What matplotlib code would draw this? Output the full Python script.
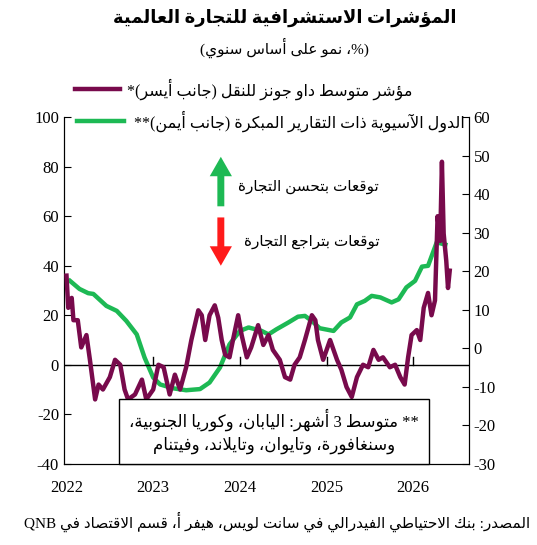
import re
import matplotlib
matplotlib.use("Agg")
import matplotlib.pyplot as plt

plt.rcParams['font.family'] = ['Liberation Serif', 'DejaVu Sans']
plt.rcParams['axes.unicode_minus'] = False

# Dow Jones transport average, % y/y (left axis)
dj_year = [2022.00, 2022.02, 2022.06, 2022.08, 2022.13, 2022.17, 2022.23, 2022.27, 2022.33, 2022.37,
           2022.42, 2022.50, 2022.56, 2022.62, 2022.67, 2022.71, 2022.79, 2022.87, 2022.92, 2023.00,
           2023.06, 2023.12, 2023.19, 2023.25, 2023.31, 2023.38, 2023.44, 2023.48, 2023.52, 2023.56,
           2023.60, 2023.65, 2023.71, 2023.75, 2023.79, 2023.83, 2023.88, 2023.92, 2023.98, 2024.02,
           2024.08, 2024.13, 2024.21, 2024.27, 2024.33, 2024.38, 2024.46, 2024.52, 2024.58, 2024.63,
           2024.69, 2024.75, 2024.83, 2024.87, 2024.90, 2024.96, 2025.04, 2025.12, 2025.17, 2025.23,
           2025.29, 2025.35, 2025.42, 2025.48, 2025.54, 2025.60, 2025.65, 2025.73, 2025.79, 2025.85,
           2025.90, 2025.94, 2025.98, 2026.04, 2026.08, 2026.12, 2026.17, 2026.21, 2026.25, 2026.28,
           2026.31, 2026.33, 2026.35, 2026.38, 2026.40, 2026.42]
dj_val = [36, 23, 27, 18, 18, 7, 12, 2, -14, -8,
          -10, -5, 2, 0, -10, -14, -12, -6, -14, -10,
          0, -1, -12, -4, -10, -1, 10, 16, 22, 20,
          10, 20, 24, 19, 10, 4, 3, 10, 20, 12,
          3, 7, 16, 8, 12, 6, 2, -5, -6, 0,
          3, 10, 20, 18, 10, 2, 10, 2, -2, -9,
          -13, -5, 0, -1, 6, 2, 3, -1, 0, -5,
          -8, 3, 12, 14, 10, 23, 29, 20, 26, 60,
          50, 82, 53, 42, 31, 38]

# Asian early reporters, 3m avg % y/y (right axis)
asia_year = [2022.04, 2022.15, 2022.25, 2022.31, 2022.46, 2022.58, 2022.69, 2022.81, 2022.90, 2023.00,
             2023.08, 2023.23, 2023.38, 2023.54, 2023.65, 2023.77, 2023.88, 2024.00, 2024.10, 2024.25,
             2024.33, 2024.42, 2024.56, 2024.67, 2024.75, 2024.83, 2024.92, 2025.08, 2025.17, 2025.27,
             2025.35, 2025.44, 2025.52, 2025.62, 2025.75, 2025.83, 2025.92, 2026.02, 2026.10, 2026.17,
             2026.27, 2026.37]
asia_val = [17.5, 15.4, 14.3, 14.1, 11, 9.7, 7.1, 3.6, -2.4, -7.6,
            -9.4, -10.4, -10.9, -10.6, -8.9, -5, 1, 4.5, 5.4, 4.5,
            3.6, 4.9, 6.7, 8.2, 8.4, 7.1, 5.2, 4.5, 6.7, 8, 11.4,
            12.3, 13.6, 13.2, 11.9, 12.7, 15.8, 17.5, 21.2, 21.4, 27.5,
            26.9]

years = [2022, 2023, 2024, 2025, 2026]

FORMS = {'ء': (0xFE80, 1), 'آ': (0xFE81, 2), 'أ': (0xFE83, 2), 'ؤ': (0xFE85, 2), 'إ': (0xFE87, 2),
         'ئ': (0xFE89, 4), 'ا': (0xFE8D, 2), 'ب': (0xFE8F, 4), 'ة': (0xFE93, 2), 'ت': (0xFE95, 4),
         'ث': (0xFE99, 4), 'ج': (0xFE9D, 4), 'ح': (0xFEA1, 4), 'خ': (0xFEA5, 4), 'د': (0xFEA9, 2),
         'ذ': (0xFEAB, 2), 'ر': (0xFEAD, 2), 'ز': (0xFEAF, 2), 'س': (0xFEB1, 4), 'ش': (0xFEB5, 4),
         'ص': (0xFEB9, 4), 'ض': (0xFEBD, 4), 'ط': (0xFEC1, 4), 'ظ': (0xFEC5, 4), 'ع': (0xFEC9, 4),
         'غ': (0xFECD, 4), 'ف': (0xFED1, 4), 'ق': (0xFED5, 4), 'ك': (0xFED9, 4), 'ل': (0xFEDD, 4),
         'م': (0xFEE1, 4), 'ن': (0xFEE5, 4), 'ه': (0xFEE9, 4), 'و': (0xFEED, 2), 'ى': (0xFEEF, 2),
         'ي': (0xFEF1, 4)}
LAM_ALEF = {'آ': 0xFEF5, 'أ': 0xFEF7, 'إ': 0xFEF9, 'ا': 0xFEFB}
MIRROR = {'(': ')', ')': '('}


def ar(text):
    # minimal arabic shaping + reordering for display
    out = []
    i = 0
    while i < len(text):
        c = text[i]
        if c not in FORMS:
            out.append(c)
            i += 1
            continue
        prev = text[i - 1] if i > 0 else ''
        cp = prev in FORMS and FORMS[prev][1] == 4
        if c == 'ل' and i + 1 < len(text) and text[i + 1] in LAM_ALEF:
            out.append(chr(LAM_ALEF[text[i + 1]] + (1 if cp else 0)))
            i += 2
            continue
        nxt = text[i + 1] if i + 1 < len(text) else ''
        base, n = FORMS[c]
        cn = n == 4 and nxt in FORMS
        if n == 1:
            out.append(chr(base))
        elif n == 2:
            out.append(chr(base + (1 if cp else 0)))
        else:
            idx = 3 if (cp and cn) else 1 if cp else 2 if cn else 0
            out.append(chr(base + idx))
        i += 1
    s = ''.join(MIRROR.get(ch, ch) for ch in reversed(out))
    return re.sub(r'[A-Za-z0-9]+', lambda m: m.group(0)[::-1], s)


fig = plt.figure(figsize=(5.37, 5.45), dpi=100)
ax = fig.add_axes([0.119, 0.149, 0.754, 0.636])
ax2 = ax.twinx()

ax.plot(dj_year, dj_val, color='#780A4C', lw=3.2, zorder=3)
ax2.plot(asia_year, asia_val, color='#1DB954', lw=3.2, zorder=4)
ax.axhline(0, color='black', lw=1, zorder=2)

ax.set_xlim(2021.97, 2026.64)
ax.set_ylim(-40, 100)
ax2.set_ylim(-30, 60)
ax.set_yticks(range(-40, 101, 20))
ax2.set_yticks(range(-30, 61, 10))
ax.set_xticks(years)
ax.set_xticklabels([str(y) for y in years])
for a in (ax, ax2):
    a.spines['top'].set_visible(False)
    a.tick_params(direction='in', labelsize=12, length=5)
ax.tick_params(axis='x', length=0, pad=12)
for y in years[1:]:
    ax.plot([y, y], [0, 3], color='black', lw=1, zorder=2)
ax.set_zorder(ax2.get_zorder() + 1)
ax.patch.set_visible(False)

# legend
fig.lines.append(plt.Line2D([0.140, 0.223], [0.837, 0.837], color='#780A4C', lw=3.2, transform=fig.transFigure))
fig.lines.append(plt.Line2D([0.143, 0.230], [0.778, 0.778], color='#1DB954', lw=3.2, transform=fig.transFigure))
fig.text(0.768, 0.837, ar('مؤشر متوسط داو جونز للنقل (جانب أيسر)*'), ha='right', va='center', fontsize=11.5)
fig.text(0.865, 0.778, ar('الدول الآسيوية ذات التقارير المبكرة (جانب أيمن)**'), ha='right', va='center', fontsize=11.5)

# arrows
ax.annotate('', xy=(2023.78, 84), xytext=(2023.78, 64),
            arrowprops=dict(facecolor='#1DB954', edgecolor='none', width=5, headwidth=16, headlength=14))
ax.annotate('', xy=(2023.78, 40), xytext=(2023.78, 59.5),
            arrowprops=dict(facecolor='#FF1A1A', edgecolor='none', width=5, headwidth=16, headlength=14))
fig.text(0.575, 0.658, ar('توقعات بتحسن التجارة'), ha='center', va='center', fontsize=11)
fig.text(0.58, 0.556, ar('توقعات بتراجع التجارة'), ha='center', va='center', fontsize=11)

# note box
fig.text(0.51, 0.209, ar('** متوسط 3 أشهر: اليابان، وكوريا الجنوبية،') + '\n' + ar('وسنغافورة، وتايوان، وتايلاند، وفيتنام'),
         ha='center', va='center', fontsize=12, linespacing=1.4,
         bbox=dict(boxstyle='square,pad=0.6', facecolor='white', edgecolor='black', lw=1))

fig.text(0.53, 0.968, ar('المؤشرات الاستشرافية للتجارة العالمية'), ha='center', va='center',
         fontsize=13, fontweight='bold')
fig.text(0.53, 0.913, ar('(%، نمو على أساس سنوي)'), ha='center', va='center', fontsize=11)
fig.text(0.988, 0.042, ar('المصدر: بنك الاحتياطي الفيدرالي في سانت لويس، هيفر أ، قسم الاقتصاد في QNB'),
         ha='right', va='center', fontsize=11)

fig.savefig('out.png', dpi=100)
